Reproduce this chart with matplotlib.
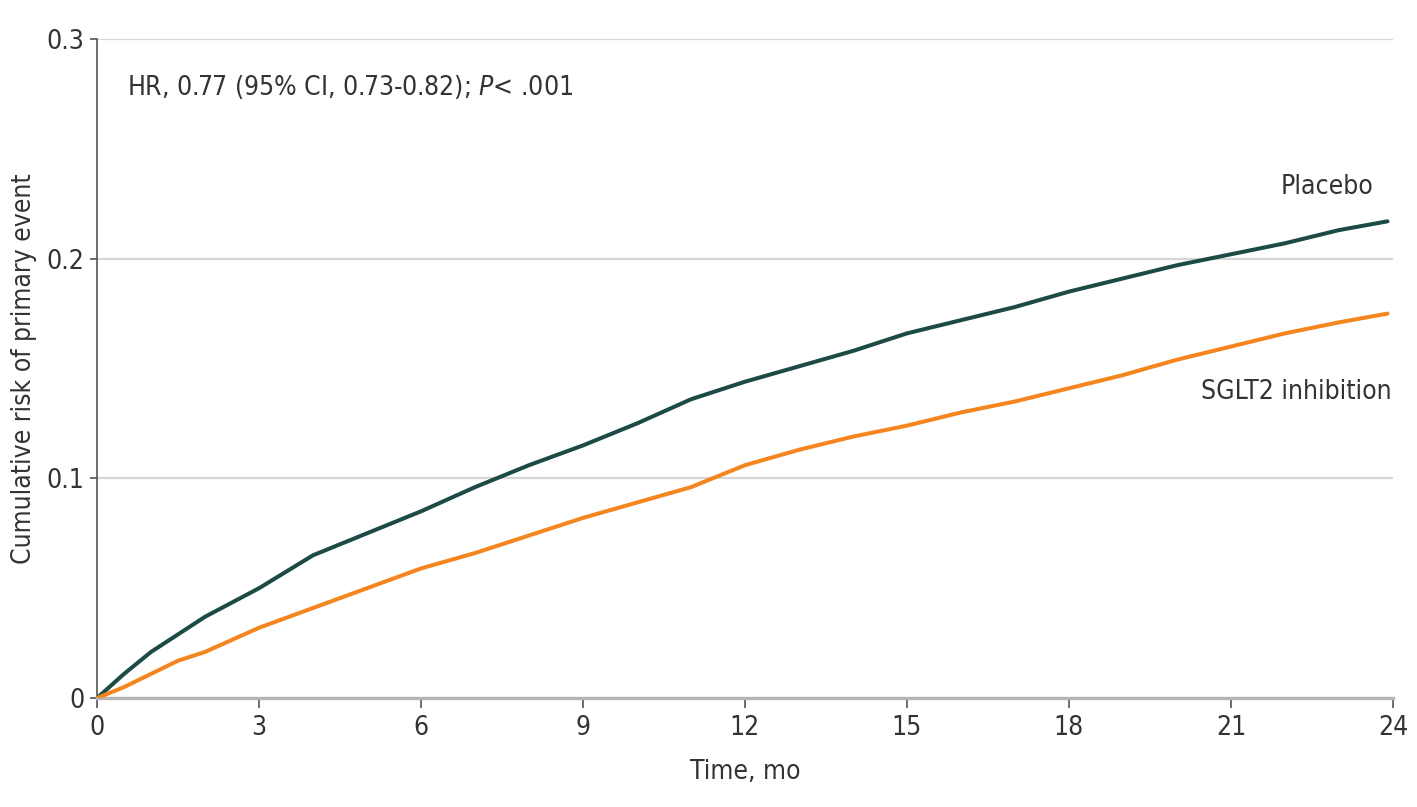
import matplotlib
matplotlib.use("Agg")
import matplotlib.pyplot as plt
from matplotlib import font_manager

# ---- data ----
time_mo = [0, 0.5, 1, 1.5, 2, 3, 4, 5, 6, 7, 8, 9, 10, 11, 12, 13, 14, 15,
           16, 17, 18, 19, 20, 21, 22, 23, 23.9]
placebo = [0, 0.011, 0.021, 0.029, 0.037, 0.050, 0.065, 0.075, 0.085, 0.096,
           0.106, 0.115, 0.125, 0.136, 0.144, 0.151, 0.158, 0.166, 0.172,
           0.178, 0.185, 0.191, 0.197, 0.202, 0.207, 0.213, 0.217]
sglt2 = [0, 0.005, 0.011, 0.017, 0.021, 0.032, 0.041, 0.050, 0.059, 0.066,
         0.074, 0.082, 0.089, 0.096, 0.106, 0.113, 0.119, 0.124, 0.130,
         0.135, 0.141, 0.147, 0.154, 0.160, 0.166, 0.171, 0.175]
x_ticks = [0, 3, 6, 9, 12, 15, 18, 21, 24]
y_ticks = [0, 0.1, 0.2, 0.3]
y_tick_labels = ["0", "0.1", "0.2", "0.3"]
annotation = "HR, 0.77 (95% CI, 0.73-0.82); $\\it{P}$< .001"

# ---- font ----
names = {f.name for f in font_manager.fontManager.ttflist}
stretch = "normal"
if "Liberation Sans Narrow" in names:
    fam = ["Liberation Sans Narrow", "DejaVu Sans"]
else:
    fam = ["DejaVu Sans"]
    stretch = "condensed"
plt.rcParams["font.family"] = fam
plt.rcParams["font.stretch"] = stretch
plt.rcParams["mathtext.fontset"] = "custom"
plt.rcParams["mathtext.it"] = fam[0] + ":italic"
plt.rcParams["mathtext.rm"] = fam[0]

txt = "#333333"
fs = 19
fig = plt.figure(figsize=(14.17, 8.07), dpi=100)
ax = fig.add_axes([0.0685, 0.135, 0.9145, 0.8167])

ax.plot(time_mo, placebo, color="#1c4a45", lw=2.9, solid_joinstyle="round",
        solid_capstyle="round", zorder=3)
ax.plot(time_mo, sglt2, color="#f5861f", lw=2.9, solid_joinstyle="round",
        solid_capstyle="round", zorder=3)

ax.set_xlim(0, 24)
ax.set_ylim(0, 0.3)
ax.set_xticks(x_ticks)
ax.set_yticks(y_ticks)
ax.set_yticklabels(y_tick_labels)
for y in y_ticks[1:]:
    ax.axhline(y, color="#d6d6d6", lw=1.6, zorder=1)

for s in ["top", "right"]:
    ax.spines[s].set_visible(False)
ax.spines["left"].set_color("#555555")
ax.spines["left"].set_linewidth(1.2)
ax.spines["bottom"].set_color("#b5b5b5")
ax.spines["bottom"].set_linewidth(2.4)
ax.tick_params(axis="both", colors="#555555", labelcolor=txt, labelsize=fs)
ax.tick_params(axis="x", length=7, width=1.2, pad=5)
ax.tick_params(axis="y", length=5, width=1.2, pad=4)

ax.set_xlabel("Time, mo", fontsize=fs, color=txt, labelpad=13)
ax.set_ylabel("Cumulative risk of primary event", fontsize=fs, color=txt, labelpad=7)

ax.text(0.023, 0.927, annotation, transform=ax.transAxes, fontsize=fs,
        color=txt, va="center", ha="left")
ax.text(23.63, 0.2326, "Placebo", fontsize=fs, color=txt, ha="right", va="center")
ax.text(23.98, 0.1393, "SGLT2 inhibition", fontsize=fs, color=txt, ha="right", va="center")

fig.savefig("out.png", dpi=100)
